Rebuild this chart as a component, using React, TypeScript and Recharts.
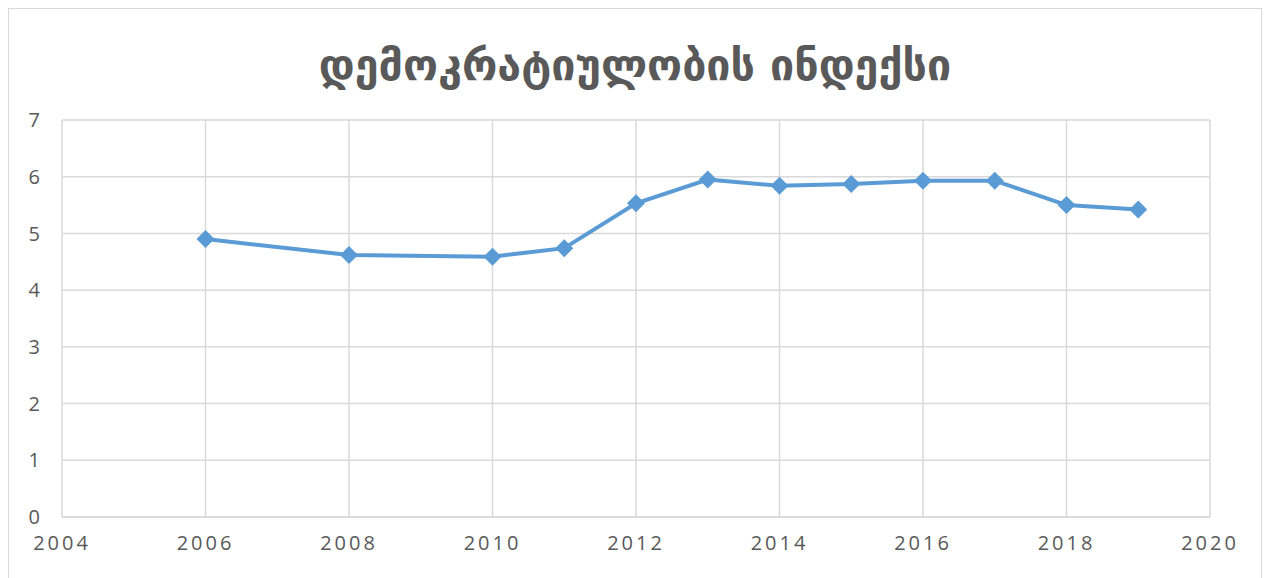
import React from "react";
import { LineChart, Line, XAxis, YAxis, CartesianGrid } from "recharts";

const years = [2006, 2008, 2010, 2011, 2012, 2013, 2014, 2015, 2016, 2017, 2018, 2019];
const indexValues = [4.9, 4.62, 4.59, 4.74, 5.53, 5.95, 5.84, 5.87, 5.93, 5.93, 5.5, 5.42];
const xTicks = [2004, 2006, 2008, 2010, 2012, 2014, 2016, 2018, 2020];
const yTicks = [0, 1, 2, 3, 4, 5, 6, 7];
const title = "დემოკრატიულობის ინდექსი";

const data = years.map((year, i) => ({ year, value: indexValues[i] }));

const axisFont = {
  fontFamily: "'Open Sans', sans-serif",
  fontSize: 20,
  fill: "#595959",
};

function Diamond(props: any) {
  const { cx, cy } = props;
  if (cx == null || cy == null) return null;
  const r = 9;
  return (
    <polygon
      key={`d-${cx}`}
      points={`${cx},${cy - r} ${cx + r},${cy} ${cx},${cy + r} ${cx - r},${cy}`}
      fill="#5b9bd5"
    />
  );
}

export default function App() {
  return (
    <div
      style={{
        position: "relative",
        width: 1252,
        height: 580,
        border: "1px solid #d9d9d9",
        background: "#fff",
      }}
    >
      <div
        style={{
          position: "absolute",
          top: 31,
          left: 0,
          width: "100%",
          textAlign: "center",
          fontFamily: "'DejaVu Sans', sans-serif",
          fontWeight: "bold",
          fontSize: 43,
          color: "#595959",
        }}
      >
        {title}
      </div>
      <LineChart
        width={1252}
        height={569}
        data={data}
        margin={{ top: 111, right: 51, bottom: 11, left: 13 }}
      >
        <CartesianGrid stroke="#d9d9d9" strokeWidth={1.5} vertical horizontal />
        <XAxis
          dataKey="year"
          type="number"
          domain={[2004, 2020]}
          ticks={xTicks}
          axisLine={{ stroke: "#d9d9d9", strokeWidth: 1.5 }}
          tickLine={false}
          tickSize={0}
          tickMargin={19}
          height={50}
          tick={{ ...axisFont, letterSpacing: 3 }}
        />
        <YAxis
          type="number"
          domain={[0, 7]}
          ticks={yTicks}
          axisLine={false}
          tickLine={false}
          tickSize={0}
          tickMargin={22}
          width={40}
          tick={axisFont}
        />
        <Line
          type="linear"
          dataKey="value"
          stroke="#5b9bd5"
          strokeWidth={4}
          dot={<Diamond />}
          activeDot={false}
          isAnimationActive={false}
        />
      </LineChart>
    </div>
  );
}
